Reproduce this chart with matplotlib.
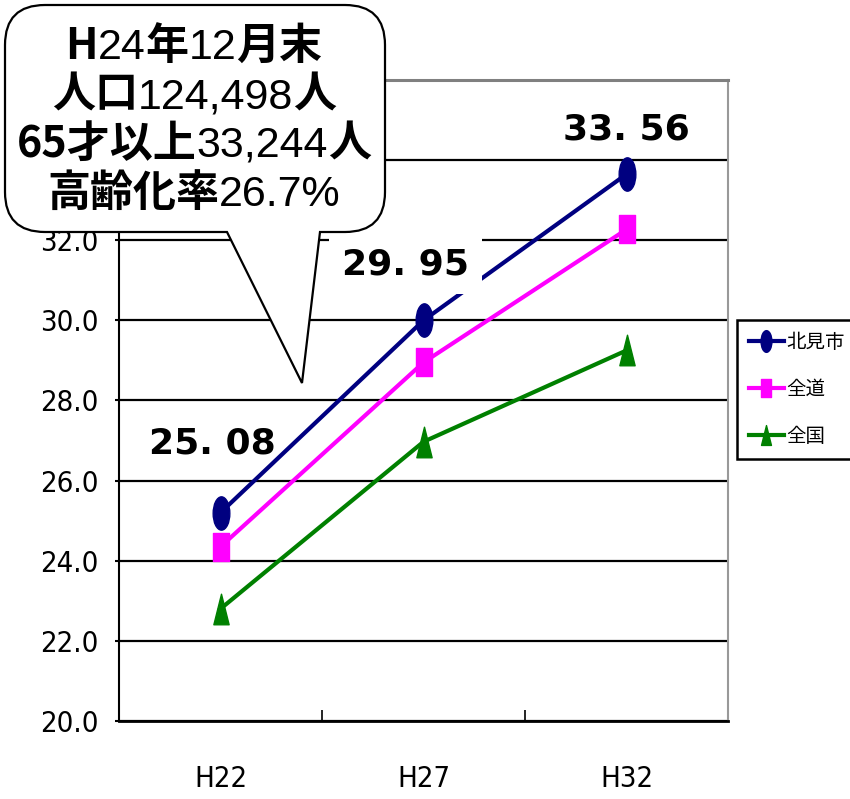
import matplotlib
matplotlib.use('Agg')
import matplotlib.pyplot as plt
from matplotlib.path import Path
from matplotlib.patches import PathPatch
from matplotlib.transforms import Affine2D
from matplotlib.offsetbox import TextArea, HPacker, AnnotationBbox
from matplotlib.ticker import FixedLocator

# ---------------- data ----------------
categories = ['H22', 'H27', 'H32']
series_names = ['北見市', '全道', '全国']
kitami = [25.2, 30.0, 33.65]
zendo = [24.35, 28.95, 32.27]
zenkoku = [22.8, 26.97, 29.25]
kitami_labels = ['25. 08', '29. 95', '33. 56']
yticks = [20, 22, 24, 26, 28, 30, 32, 34, 36]
# the 34.0 and 36.0 labels are hidden behind the callout in the reference
ytick_labels = ['20.0', '22.0', '24.0', '26.0', '28.0', '30.0', '32.0', '', '']
callout_lines = [
    [('H', True), ('24', False), ('年', True), ('12', False), ('月末', True)],
    [('人口', True), ('124,498', False), ('人', True)],
    [('65才以上', True), ('33,244', False), ('人', True)],
    [('高齢化率', True), ('26.7%', False)],
]

# ---------------- style ----------------
W, H = 850, 799
CJK = ['Noto Sans CJK JP', 'DejaVu Sans']
LAT = ['Liberation Sans', 'DejaVu Sans']
colors = ['#000080', '#FF00FF', '#008000']

ellipse = Affine2D().scale(0.5, 1.0).transform_path(Path.unit_circle())
rect = Path([(-0.27, -0.5), (0.27, -0.5), (0.27, 0.5), (-0.27, 0.5), (-0.27, -0.5)],
            [Path.MOVETO, Path.LINETO, Path.LINETO, Path.LINETO, Path.CLOSEPOLY])
tri = Path([(-0.25, -0.5), (0.25, -0.5), (0.0, 0.5), (-0.25, -0.5)],
           [Path.MOVETO, Path.LINETO, Path.LINETO, Path.CLOSEPOLY])
markers = [ellipse, rect, tri]
msizes = [24, 20, 22]

fig = plt.figure(figsize=(W / 100, H / 100), dpi=100)
fig.patch.set_facecolor('white')
ax = fig.add_axes([119 / W, 1 - 721 / H, (728 - 119) / W, (721 - 80) / H])

x = list(range(len(categories)))
for vals, name, c, m, ms in zip([kitami, zendo, zenkoku], series_names, colors, markers, msizes):
    ax.plot(x, vals, color=c, lw=3, marker=m, markersize=ms, markerfacecolor=c,
            markeredgecolor=c, label=name, zorder=3)

for i, (xv, yv, lab) in enumerate(zip(x, kitami, kitami_labels)):
    offs = [(-8, 69), (-18, 56), (0, 45)][i]
    kw = {}
    if i == 1:
        kw['bbox'] = dict(boxstyle='square,pad=0.35', fc='white', ec='none')
    ax.annotate(lab, (xv, yv), xytext=offs, textcoords='offset pixels',
                ha='center', va='center', fontsize=26, fontweight='bold',
                family=['DejaVu Sans'], zorder=6, **kw)

tick_font = dict(family=['DejaVu Sans'], fontstretch='condensed', fontsize=21)
ax.set_xlim(-0.5, 2.5)
ax.set_ylim(20, 36)
ax.set_yticks(yticks)
ax.set_yticklabels(ytick_labels, **tick_font)
ax.set_xticks(x)
ax.set_xticklabels(categories, **tick_font)
ax.xaxis.set_minor_locator(FixedLocator([-0.5, 0.5, 1.5, 2.5]))
ax.tick_params(axis='x', which='major', length=0, pad=32)
ax.tick_params(axis='x', which='minor', direction='in', length=8, width=1.2, color='black')
ax.tick_params(axis='y', which='major', direction='out', length=3, width=1.5, pad=12)
ax.yaxis.grid(True, color='black', lw=1.6)
ax.set_axisbelow('line')

ax.spines['top'].set_color('#808080')
ax.spines['top'].set_linewidth(2.2)
ax.spines['right'].set_color('#999999')
ax.spines['right'].set_linewidth(1.5)
ax.spines['left'].set_linewidth(1.5)
ax.spines['bottom'].set_linewidth(2.0)

leg = ax.legend(loc='upper left', bbox_to_anchor=(737 / W, 1 - 320 / H),
                bbox_transform=fig.transFigure, frameon=True, fancybox=False,
                edgecolor='black', prop={'family': CJK, 'size': 14},
                markerscale=0.65, handlelength=1.8, handletextpad=0.15,
                labelspacing=1.35, borderpad=0.6, borderaxespad=0)
leg.get_frame().set_linewidth(1.8)
leg.get_frame().set_alpha(1)

# ---------------- callout bubble ----------------
L, R, T, B, r = 5, 385, 5, 232, 40
tl, tip, tr = (227, B), (302, 383), (320, B)
pts = [
    ((L + r, T), Path.MOVETO),
    ((R - r, T), Path.LINETO),
    ((R, T), Path.CURVE3), ((R, T + r), Path.CURVE3),
    ((R, B - r), Path.LINETO),
    ((R, B), Path.CURVE3), ((R - r, B), Path.CURVE3),
    (tr, Path.LINETO),
    (tip, Path.LINETO),
    (tl, Path.LINETO),
    ((L + r, B), Path.LINETO),
    ((L, B), Path.CURVE3), ((L, B - r), Path.CURVE3),
    ((L, T + r), Path.LINETO),
    ((L, T), Path.CURVE3), ((L + r, T), Path.CURVE3),
    ((L + r, T), Path.CLOSEPOLY),
]
verts = [(px / W, 1 - py / H) for (px, py), _ in pts]
codes = [c for _, c in pts]
bubble = PathPatch(Path(verts, codes), transform=fig.transFigure,
                   facecolor='white', edgecolor='black', lw=1.6, zorder=10)
fig.add_artist(bubble)

line_y = [46, 95, 144, 193]
for parts, yy in zip(callout_lines, line_y):
    children = []
    for s, bold in parts:
        if bold:
            tp = dict(fontsize=31, fontweight='bold', family=CJK, color='black')
        else:
            tp = dict(fontsize=31, fontweight='normal', family=LAT, color='black')
        children.append(TextArea(s, textprops=tp))
    hp = HPacker(children=children, align='baseline', pad=0, sep=0)
    ab = AnnotationBbox(hp, (194 / W, 1 - yy / H), xycoords='figure fraction',
                        frameon=False, box_alignment=(0.5, 0.5), zorder=11)
    fig.add_artist(ab)

fig.savefig('out.png', dpi=100, facecolor='white')
